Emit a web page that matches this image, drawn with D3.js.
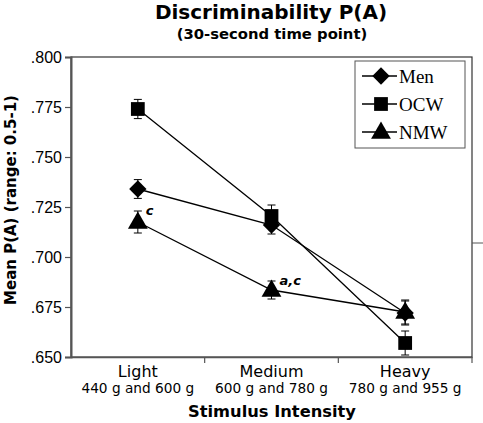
<!DOCTYPE html>
<html><head><meta charset="utf-8">
<script src="https://cdn.jsdelivr.net/npm/d3@7"></script>
<style>body{margin:0;background:#fff}svg{display:block}</style>
</head><body>
<script>
const categories = ["Light", "Medium", "Heavy"];
const subLabels = ["440 g and 600 g", "600 g and 780 g", "780 g and 955 g"];
const seriesNames = ["Men", "OCW", "NMW"];
const menValues = [0.734, 0.716, 0.672];
const menErr = [0.0047, 0.0045, 0.006];
const ocwValues = [0.774, 0.7205, 0.657];
const ocwErr = [0.0048, 0.0055, 0.006];
const nmwValues = [0.7175, 0.6835, 0.6725];
const nmwErr = [0.0055, 0.0045, 0.006];
const yTicks = [0.650, 0.675, 0.700, 0.725, 0.750, 0.775, 0.800];
const annotations = [{series: "NMW", cat: "Light", text: "c"}, {series: "NMW", cat: "Medium", text: "a,c"}];

const W = 483, H = 423;
const svg = d3.select("body").append("svg").attr("width", W).attr("height", H);
const L = 71, R = 472, T = 57, B = 357;
const x = d3.scaleBand().domain(categories).range([L, R]);
const y = d3.scaleLinear().domain([0.65, 0.80]).range([B, T]);

// title
svg.append("text").attr("x", 271).attr("y", 19).attr("text-anchor", "middle")
  .attr("font-family", "DejaVu Sans").attr("font-weight", "bold").attr("font-size", 20).text("Discriminability P(A)");
svg.append("text").attr("x", 272).attr("y", 39).attr("text-anchor", "middle")
  .attr("font-family", "DejaVu Sans").attr("font-weight", "bold").attr("font-size", 14.8).text("(30-second time point)");

// frame
svg.append("rect").attr("x", L).attr("y", T).attr("width", R - L).attr("height", B - T)
  .attr("fill", "none").attr("stroke", "#333").attr("stroke-width", 1.2);
// right stray tick
svg.append("line").attr("x1", R).attr("x2", R + 11).attr("y1", 243).attr("y2", 243).attr("stroke", "#555").attr("stroke-width", 1);

// y axis
const yAxis = svg.append("g").attr("transform", `translate(${L},0)`)
  .call(d3.axisLeft(y).tickValues(yTicks).tickSize(6).tickPadding(3).tickFormat(d => d3.format(".3f")(d).replace(/^0/, "")));
yAxis.select(".domain").attr("stroke", "#555").attr("stroke-width", 2);
yAxis.selectAll(".tick line").attr("stroke", "#555").attr("stroke-width", 1.2);
yAxis.selectAll("text").attr("font-family", "Liberation Sans").attr("font-size", 16).attr("fill", "#000");

// x axis
const xAxis = svg.append("g").attr("transform", `translate(0,${B})`)
  .call(d3.axisBottom(x).tickSize(0).tickFormat(""));
xAxis.select(".domain").attr("stroke", "#555").attr("stroke-width", 1.5);
categories.forEach((c, i) => {
  const xr = x(c) + x.bandwidth();
  svg.append("line").attr("x1", xr).attr("x2", xr).attr("y1", B).attr("y2", B + 6).attr("stroke", "#555").attr("stroke-width", 1.2);
  const cx = x(c) + x.bandwidth() / 2;
  svg.append("text").attr("x", cx).attr("y", 377).attr("text-anchor", "middle")
    .attr("font-family", "DejaVu Sans").attr("font-size", 16).text(c);
  svg.append("text").attr("x", cx).attr("y", 393).attr("text-anchor", "middle")
    .attr("font-family", "DejaVu Sans").attr("font-size", 13.7).text(subLabels[i]);
});
svg.append("text").attr("x", 272).attr("y", 417).attr("text-anchor", "middle")
  .attr("font-family", "DejaVu Sans").attr("font-weight", "bold").attr("font-size", 16.3).text("Stimulus Intensity");

// y title
svg.append("text").attr("transform", "translate(16,200) rotate(-90)").attr("text-anchor", "middle")
  .attr("font-family", "DejaVu Sans").attr("font-weight", "bold").attr("font-size", 15).text("Mean P(A) (range: 0.5-1)");

const symbols = {Men: d3.symbol().type(d3.symbolSquare).size(150), OCW: d3.symbol().type(d3.symbolSquare).size(190), NMW: d3.symbol().type(d3.symbolTriangle).size(170)};
const series = [
  {name: "Men", values: menValues, err: menErr},
  {name: "OCW", values: ocwValues, err: ocwErr},
  {name: "NMW", values: nmwValues, err: nmwErr}
];
const cxOf = c => x(c) + x.bandwidth() / 2;
const line = d3.line().x((d, i) => cxOf(categories[i])).y(d => y(d));

function marker(g, name, px, py) {
  const p = g.append("path").attr("d", symbols[name]()).attr("fill", "#000");
  if (name === "Men") p.attr("transform", `translate(${px},${py}) rotate(45)`);
  else if (name === "NMW") p.attr("transform", `translate(${px},${py + 1})`);
  else p.attr("transform", `translate(${px},${py})`);
}

series.forEach(s => {
  svg.append("path").datum(s.values).attr("d", line).attr("fill", "none").attr("stroke", "#000").attr("stroke-width", 1.3);
});
series.forEach(s => {
  s.values.forEach((v, i) => {
    const cx = cxOf(categories[i]);
    const y1 = y(v + s.err[i]), y2 = y(v - s.err[i]);
    svg.append("line").attr("x1", cx).attr("x2", cx).attr("y1", y1).attr("y2", y2).attr("stroke", "#000").attr("stroke-width", 1);
    [y1, y2].forEach(yy => svg.append("line").attr("x1", cx - 4).attr("x2", cx + 4).attr("y1", yy).attr("y2", yy).attr("stroke", "#000").attr("stroke-width", 1));
    marker(svg, s.name, cx, y(v));
  });
});

annotations.forEach(a => {
  const s = series.find(d => d.name === a.series);
  const i = categories.indexOf(a.cat);
  svg.append("text").attr("x", cxOf(a.cat) + 8).attr("y", y(s.values[i] + s.err[i]) + 4)
    .attr("font-family", "DejaVu Sans").attr("font-weight", "bold").attr("font-style", "italic").attr("font-size", 13).text(a.text);
});

// legend
const lg = svg.append("g");
lg.append("rect").attr("x", 355).attr("y", 61).attr("width", 110).attr("height", 87).attr("fill", "#fff").attr("stroke", "#555").attr("stroke-width", 1);
seriesNames.forEach((n, i) => {
  const ly = 76 + i * 28;
  lg.append("line").attr("x1", 362).attr("x2", 397).attr("y1", ly).attr("y2", ly).attr("stroke", "#000").attr("stroke-width", 1.3);
  marker(lg, n, 381, ly);
  lg.append("text").attr("x", 399).attr("y", ly + 7).attr("font-family", "Liberation Serif").attr("font-size", 19).text(n);
});
</script>
</body></html>
